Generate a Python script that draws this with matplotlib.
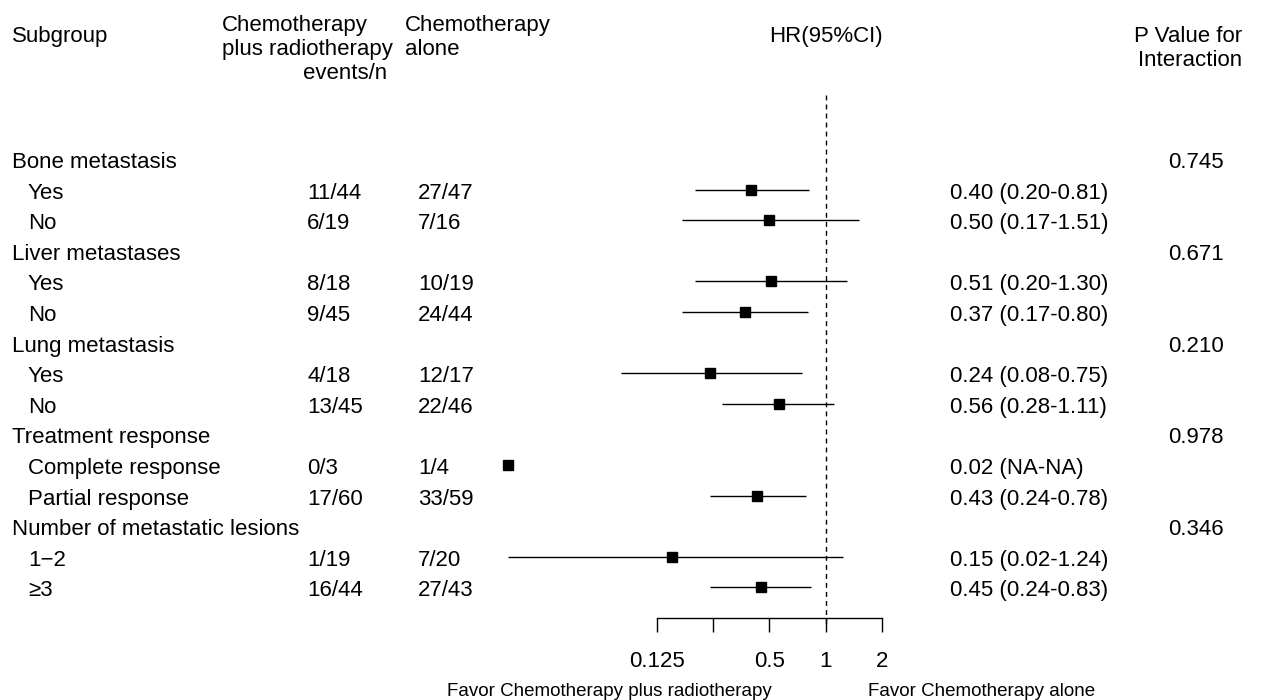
import numpy as np
import matplotlib
matplotlib.use("Agg")
import matplotlib.pyplot as plt
import matplotlib.transforms as mtransforms
from matplotlib.ticker import NullLocator

plt.rcParams['font.family'] = ['Liberation Sans', 'DejaVu Sans']

# --- data ---
row_labels = ["Bone metastasis", "Yes", "No",
              "Liver metastases", "Yes", "No",
              "Lung metastasis", "Yes", "No",
              "Treatment response", "Complete response", "Partial response",
              "Number of metastatic lesions", "1\u22122", "\u22653"]
is_group = [True, False, False, True, False, False, True, False, False,
            True, False, False, True, False, False]
events_combo = ["", "11/44", "6/19", "", "8/18", "9/45", "", "4/18", "13/45",
                "", "0/3", "17/60", "", "1/19", "16/44"]
events_alone = ["", "27/47", "7/16", "", "10/19", "24/44", "", "12/17", "22/46",
                "", "1/4", "33/59", "", "7/20", "27/43"]
nan = np.nan
hr = [nan, 0.40, 0.50, nan, 0.51, 0.37, nan, 0.24, 0.56, nan, 0.02, 0.43, nan, 0.15, 0.45]
ci_low = [nan, 0.20, 0.17, nan, 0.20, 0.17, nan, 0.08, 0.28, nan, nan, 0.24, nan, 0.02, 0.24]
ci_high = [nan, 0.81, 1.51, nan, 1.30, 0.80, nan, 0.75, 1.11, nan, nan, 0.78, nan, 1.24, 0.83]
hr_text = ["", "0.40 (0.20-0.81)", "0.50 (0.17-1.51)", "", "0.51 (0.20-1.30)",
           "0.37 (0.17-0.80)", "", "0.24 (0.08-0.75)", "0.56 (0.28-1.11)", "",
           "0.02 (NA-NA)", "0.43 (0.24-0.78)", "", "0.15 (0.02-1.24)", "0.45 (0.24-0.83)"]
p_interaction = ["0.745", "", "", "0.671", "", "", "0.210", "", "", "0.978", "", "",
                 "0.346", "", ""]
x_ticks = [0.125, 0.25, 0.5, 1, 2]
x_ticklabels = ["0.125", "", "0.5", "1", "2"]

W, H = 1269, 700
FS = 16

fig = plt.figure(figsize=(W / 100, H / 100), dpi=100)

# forest panel: log2 axis, 1 at ~826 px, one doubling ~56 px
px_one, px_dbl = 825.75, 56.25
left_px, right_px = 480, 900
top_px, bottom_px = 95, 618
ax = fig.add_axes([left_px / W, 1 - bottom_px / H,
                   (right_px - left_px) / W, (bottom_px - top_px) / H])
ax.set_xscale('log', base=2)
ax.set_xlim(2 ** ((left_px - px_one) / px_dbl), 2 ** ((right_px - px_one) / px_dbl))
row_step = 30.6
first_row_px = 159
ax.set_ylim((bottom_px - first_row_px) / row_step, (top_px - first_row_px) / row_step)

rows = np.arange(len(row_labels))
hr_a = np.array(hr)
lo_a = np.array(ci_low)
hi_a = np.array(ci_high)

for i in rows:
    if not np.isnan(lo_a[i]):
        ax.plot([lo_a[i], hi_a[i]], [i, i], color='black', lw=1.0,
                solid_capstyle='butt', zorder=2)
ax.plot(hr_a, rows, ls='none', marker='s', ms=7.5, color='black', zorder=3)

# reference line at HR = 1
ylo, yhi = ax.get_ylim()
ax.plot([1, 1], [yhi, ylo + 0.33], color='black', lw=1.0,
        ls=(0, (3.5, 3)), clip_on=False, zorder=1)

for s in ['top', 'right', 'left']:
    ax.spines[s].set_visible(False)
ax.spines['bottom'].set_bounds(x_ticks[0], x_ticks[-1])
ax.spines['bottom'].set_linewidth(1.0)
ax.set_xticks(x_ticks)
ax.set_xticklabels(x_ticklabels)
ax.xaxis.set_minor_locator(NullLocator())
ax.set_yticks([])
ax.tick_params(axis='x', direction='out', length=10, width=1.0, pad=14,
               labelsize=FS)
ax.patch.set_alpha(0)

# small downward nudge so cap height sits on the row centre
nudge = mtransforms.ScaledTranslation(0, -3.5 / 100, fig.dpi_scale_trans)

# table columns, rows share the forest y scale
trans = mtransforms.blended_transform_factory(fig.transFigure, ax.transData) + nudge
for i in rows:
    x_lab = 12 if is_group[i] else 28
    fig.text(x_lab / W, i, row_labels[i], transform=trans, fontsize=FS,
             va='center', ha='left')
    fig.text(307 / W, i, events_combo[i], transform=trans, fontsize=FS,
             va='center', ha='left')
    fig.text(418 / W, i, events_alone[i], transform=trans, fontsize=FS,
             va='center', ha='left')
    fig.text(950 / W, i, hr_text[i], transform=trans, fontsize=FS,
             va='center', ha='left')
    fig.text(1224 / W, i, p_interaction[i], transform=trans, fontsize=FS,
             va='center', ha='right')

# header
def ftext(px, py, s, **kw):
    fig.text(px / W, 1 - py / H, s, fontsize=kw.pop('fontsize', FS), va='center',
             transform=fig.transFigure + nudge, **kw)

ftext(12, 33, "Subgroup", ha='left')
ftext(222, 22, "Chemotherapy", ha='left')
ftext(222, 46, "plus radiotherapy", ha='left')
ftext(345, 70, "events/n", ha='center')
ftext(405, 22, "Chemotherapy", ha='left')
ftext(405, 46, "alone", ha='left')
ftext(826, 33, "HR(95%CI)", ha='center')
ftext(1188, 33, "P Value for", ha='center')
ftext(1190, 57, "Interaction", ha='center')

# direction labels under the axis
ftext(772, 688, "Favor Chemotherapy plus radiotherapy", ha='right', fontsize=13.5)
ftext(868, 688, "Favor Chemotherapy alone", ha='left', fontsize=13.5)

fig.savefig("out.png", dpi=100)
